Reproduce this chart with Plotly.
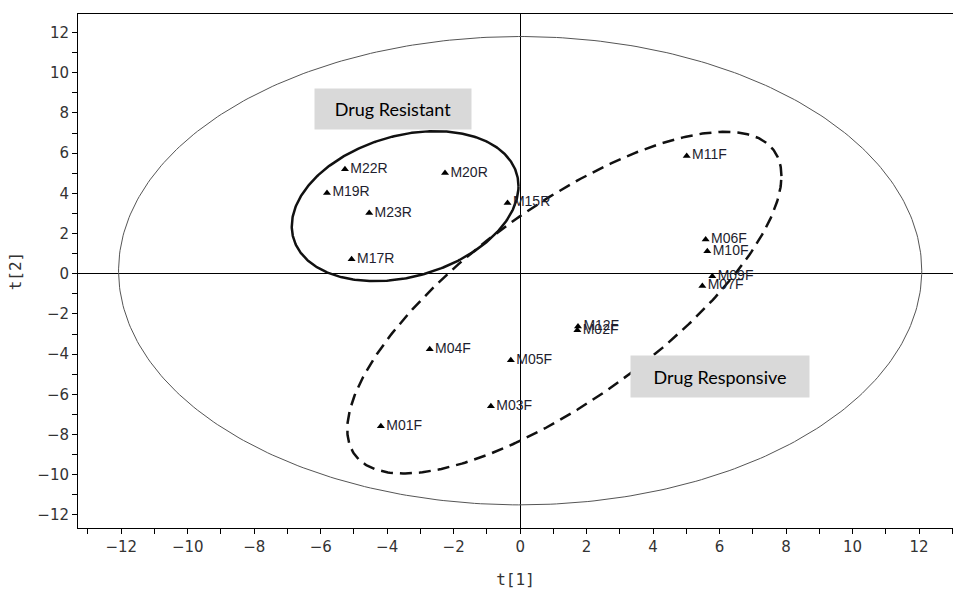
import numpy as np
import plotly.graph_objects as go

# ---- data (score plot t[1] vs t[2]) ----
labels = ["M22R", "M20R", "M19R", "M23R", "M15R", "M17R",
          "M11F", "M06F", "M10F", "M09F", "M07F", "M12F", "M02F",
          "M04F", "M05F", "M03F", "M01F"]
t1 = [-5.27, -2.26, -5.81, -4.54, -0.38, -5.07,
      5.01, 5.58, 5.63, 5.78, 5.48, 1.74, 1.72,
      -2.72, -0.28, -0.88, -4.19]
t2 = [5.20, 5.01, 4.02, 3.02, 3.52, 0.72,
      5.86, 1.70, 1.12, -0.12, -0.61, -2.62, -2.81,
      -3.76, -4.30, -6.59, -7.59]

# ellipse parameters: centre x, centre y, x half-extent, y half-extent, phase (deg)
hotelling_ellipse = [0.0, 0.15, 12.08, 11.65, 90.0]
resistant_ellipse = [-3.46, 3.36, 3.41, 3.73, 74.5]
responsive_ellipse = [1.33, -1.44, 6.53, 8.50, 42.2]

group_labels = ["Drug Resistant", "Drug Responsive"]


def ellipse_xy(p, n=400):
    cx, cy, ex, ey, ph = p
    t = np.linspace(0, 2 * np.pi, n)
    return cx + ex * np.cos(t), cy + ey * np.cos(t - np.radians(ph))


fig = go.Figure()

hx, hy = ellipse_xy(hotelling_ellipse)
fig.add_trace(go.Scatter(x=hx, y=hy, mode="lines",
                         line=dict(color="#555555", width=1), hoverinfo="skip"))

rx, ry = ellipse_xy(resistant_ellipse)
fig.add_trace(go.Scatter(x=rx, y=ry, mode="lines",
                         line=dict(color="#111111", width=2.5), hoverinfo="skip"))

sx, sy = ellipse_xy(responsive_ellipse)
fig.add_trace(go.Scatter(x=sx, y=sy, mode="lines",
                         line=dict(color="#111111", width=2.5, dash="12px,7px"),
                         hoverinfo="skip"))

fig.add_trace(go.Scatter(
    x=t1, y=t2, mode="markers+text", text=labels,
    textposition="middle right",
    textfont=dict(family="Liberation Sans, Arial", size=14, color="#1e1e2e"),
    marker=dict(symbol="triangle-up", size=7, color="black"),
))

fig.add_annotation(x=-3.82, y=8.18, text=group_labels[0], showarrow=False,
                   bgcolor="#d9d9d9", width=156, height=40, borderpad=0,
                   font=dict(family="Lato", size=18, color="black"))
fig.add_annotation(x=6.02, y=-5.1, text=group_labels[1], showarrow=False,
                   bgcolor="#d9d9d9", width=178, height=41, borderpad=0,
                   font=dict(family="Lato", size=18, color="black"))

axis_font = dict(family="DejaVu Sans", size=15, color="#333333")

fig.update_xaxes(
    range=[-13.3, 13.02], tick0=0, dtick=2, ticks="outside", ticklen=5,
    tickcolor="black", showline=True, linecolor="black", linewidth=1,
    mirror=True, showgrid=False, zeroline=True, zerolinecolor="black",
    zerolinewidth=1, tickfont=axis_font,
    minor=dict(dtick=1, ticks="outside", ticklen=5, tickcolor="black", showgrid=False),
    title=dict(text="t[1]", font=dict(family="DejaVu Sans Mono", size=16, color="#333333"),
               standoff=18),
)
fig.update_yaxes(
    range=[-12.65, 12.92], tick0=0, dtick=2, ticks="outside", ticklen=5,
    tickcolor="black", showline=True, linecolor="black", linewidth=1,
    mirror=False, showgrid=False, zeroline=True, zerolinecolor="black",
    zerolinewidth=1, tickfont=axis_font,
    minor=dict(dtick=1, ticks="outside", ticklen=5, tickcolor="black", showgrid=False),
    title=dict(text="t[2]", font=dict(family="DejaVu Sans Mono", size=16, color="#333333"),
               standoff=11),
)

fig.update_layout(
    width=955, height=590, showlegend=False,
    margin=dict(l=78, r=2, t=14, b=62),
    plot_bgcolor="white", paper_bgcolor="white",
)

fig.write_html("out.html")
